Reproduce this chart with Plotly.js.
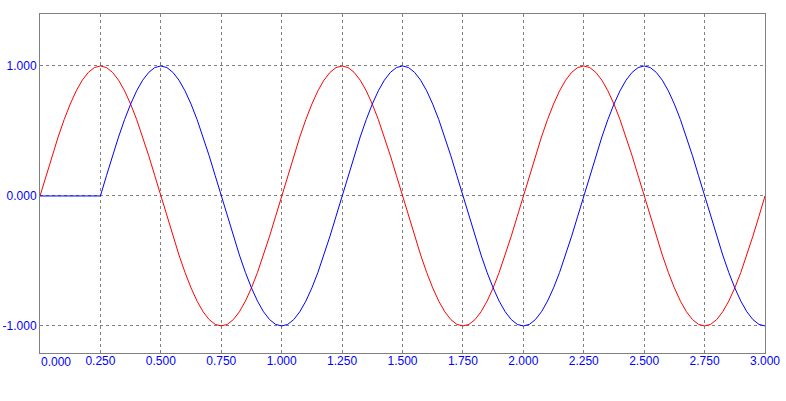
<!DOCTYPE html>
<html>
<head>
<meta charset="utf-8">
<script src="https://cdn.plot.ly/plotly-3.0.1.min.js"></script>
<style>html,body{margin:0;padding:0;background:#fff;}#chart{width:786px;height:401px;}</style>
</head>
<body>
<div id="chart"></div>
<script>
// Sample spacing (seconds) and start
var tStart = 0;
var tStep = 0.025;

// Red series: values every 0.025 from 0 to 3.0 (121 samples)
var redValues = [
  0, 0.156, 0.309, 0.454, 0.588, 0.707, 0.809, 0.891, 0.951, 0.988,
  1, 0.988, 0.951, 0.891, 0.809, 0.707, 0.588, 0.454, 0.309, 0.156,
  0, -0.156, -0.309, -0.454, -0.588, -0.707, -0.809, -0.891, -0.951, -0.988,
  -1, -0.988, -0.951, -0.891, -0.809, -0.707, -0.588, -0.454, -0.309, -0.156,
  0, 0.156, 0.309, 0.454, 0.588, 0.707, 0.809, 0.891, 0.951, 0.988,
  1, 0.988, 0.951, 0.891, 0.809, 0.707, 0.588, 0.454, 0.309, 0.156,
  0, -0.156, -0.309, -0.454, -0.588, -0.707, -0.809, -0.891, -0.951, -0.988,
  -1, -0.988, -0.951, -0.891, -0.809, -0.707, -0.588, -0.454, -0.309, -0.156,
  0, 0.156, 0.309, 0.454, 0.588, 0.707, 0.809, 0.891, 0.951, 0.988,
  1, 0.988, 0.951, 0.891, 0.809, 0.707, 0.588, 0.454, 0.309, 0.156,
  0, -0.156, -0.309, -0.454, -0.588, -0.707, -0.809, -0.891, -0.951, -0.988,
  -1, -0.988, -0.951, -0.891, -0.809, -0.707, -0.588, -0.454, -0.309, -0.156,
  0
];

// Blue series: flat zero until 0.25, then delayed wave (121 samples)
var blueValues = [
  0, 0, 0, 0, 0, 0, 0, 0, 0, 0,
  0, 0.156, 0.309, 0.454, 0.588, 0.707, 0.809, 0.891, 0.951, 0.988,
  1, 0.988, 0.951, 0.891, 0.809, 0.707, 0.588, 0.454, 0.309, 0.156,
  0, -0.156, -0.309, -0.454, -0.588, -0.707, -0.809, -0.891, -0.951, -0.988,
  -1, -0.988, -0.951, -0.891, -0.809, -0.707, -0.588, -0.454, -0.309, -0.156,
  0, 0.156, 0.309, 0.454, 0.588, 0.707, 0.809, 0.891, 0.951, 0.988,
  1, 0.988, 0.951, 0.891, 0.809, 0.707, 0.588, 0.454, 0.309, 0.156,
  0, -0.156, -0.309, -0.454, -0.588, -0.707, -0.809, -0.891, -0.951, -0.988,
  -1, -0.988, -0.951, -0.891, -0.809, -0.707, -0.588, -0.454, -0.309, -0.156,
  0, 0.156, 0.309, 0.454, 0.588, 0.707, 0.809, 0.891, 0.951, 0.988,
  1, 0.988, 0.951, 0.891, 0.809, 0.707, 0.588, 0.454, 0.309, 0.156,
  0, -0.156, -0.309, -0.454, -0.588, -0.707, -0.809, -0.891, -0.951, -0.988,
  -1
];

var xTickVals = [0, 0.25, 0.5, 0.75, 1, 1.25, 1.5, 1.75, 2, 2.25, 2.5, 2.75, 3];
var xTickText = ['0.000', '0.250', '0.500', '0.750', '1.000', '1.250', '1.500', '1.750', '2.000', '2.250', '2.500', '2.750', '3.000'];
var yTickVals = [-1, 0, 1];
var yTickText = ['-1.000', '0.000', '1.000'];

var gridColor = '#808080';
var labelFont = {family: 'Liberation Sans, Arial, sans-serif', size: 12, color: '#0000ff'};

// first x label is drawn left-aligned at the axis start, as in the original
var xShownText = xTickText.slice();
xShownText[0] = '';

var traces = [
  {x0: tStart, dx: tStep, y: redValues, type: 'scatter', mode: 'lines',
   line: {color: '#ff0000', width: 1}, hoverinfo: 'none'},
  {x0: tStart, dx: tStep, y: blueValues, type: 'scatter', mode: 'lines',
   line: {color: '#0000ff', width: 1}, hoverinfo: 'none'}
];

var layout = {
  width: 786, height: 401,
  margin: {l: 40, r: 21, t: 14, b: 48, pad: 0},
  paper_bgcolor: '#ffffff', plot_bgcolor: '#ffffff',
  showlegend: false,
  xaxis: {
    range: [0, 3], tickmode: 'array', tickvals: xTickVals, ticktext: xShownText,
    showgrid: true, gridcolor: gridColor, griddash: '3px,3px', gridwidth: 1,
    zeroline: false, showline: true, linecolor: gridColor, linewidth: 1, mirror: true,
    ticks: '', tickfont: labelFont, ticklabelstandoff: -3, fixedrange: true
  },
  yaxis: {
    range: [-1.208, 1.4], tickmode: 'array', tickvals: yTickVals, ticktext: yTickText,
    showgrid: true, gridcolor: gridColor, griddash: '3px,3px', gridwidth: 1,
    zeroline: false, showline: true, linecolor: gridColor, linewidth: 1, mirror: true,
    ticks: '', tickfont: labelFont, fixedrange: true
  },
  annotations: [{
    x: xTickVals[0], y: 0, xref: 'x', yref: 'paper', yshift: -1,
    text: xTickText[0], showarrow: false, xanchor: 'left', yanchor: 'top',
    font: labelFont, borderpad: 0
  }]
};

Plotly.newPlot('chart', traces, layout, {displayModeBar: false, staticPlot: true});
</script>
</body>
</html>
